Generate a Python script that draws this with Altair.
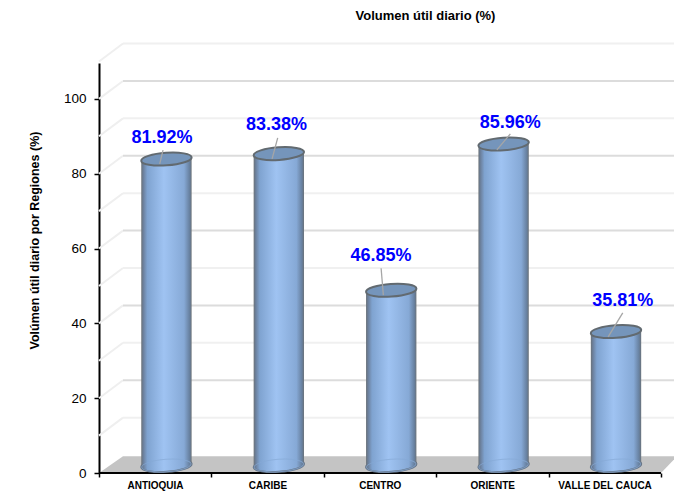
import altair as alt
import pandas as pd

regions = ["ANTIOQUIA", "CARIBE", "CENTRO", "ORIENTE", "VALLE DEL CAUCA"]
values = [81.92, 83.38, 46.85, 85.96, 35.81]
value_labels = ["81.92%", "83.38%", "46.85%", "85.96%", "35.81%"]
# leader ends and label centres, relative to each cylinder's top centre (category units, % units)
leader_start_dx = [-0.06, -0.06, -0.07, -0.06, -0.07]
leader_start_dy = [-1.3, -1.4, -1.3, -1.6, -1.4]
leader_end_dx = [-0.03, -0.01, -0.09, 0.06, 0.06]
leader_end_dy = [2.4, 4.2, 5.9, 2.7, 5.0]
label_dx = [-0.04, -0.02, -0.09, 0.06, 0.06]
label_dy = [5.7, 7.7, 9.2, 5.7, 8.2]
wall_levels = [10, 20, 30, 40, 50, 60, 70, 80, 90, 100, 110]
y_ticks = [0, 20, 40, 60, 80, 100]
x_ticks = [0, 1, 2, 3, 4, 5]

FONT = "Liberation Sans"
X_MAX, Y_MAX = 5.116, 109.6
DEPTH_X, DEPTH_Y = 0.2135, 4.8
LIFT = 2.0
SHIFT = 0.6
HALF = 0.224

k = 0.5523
ry = 0.25
ELLIPSE = (
    f"M-1,0 C-1,{-k*ry} {-k},{-ry} 0,{-ry} C{k},{-ry} 1,{-k*ry} 1,0 "
    f"C1,{k*ry} {k},{ry} 0,{ry} C{-k},{ry} -1,{k*ry} -1,0 Z"
)

xs = alt.Scale(domain=[0, X_MAX], nice=False, zero=False)
ys = alt.Scale(domain=[0, Y_MAX], nice=False, zero=False)

x_axis = alt.Axis(
    values=x_ticks, grid=False, domain=False, tickColor="black", tickWidth=1.5, tickSize=4,
    labelExpr="['ANTIOQUIA','CARIBE','CENTRO','ORIENTE','VALLE DEL CAUCA'][datum.value] || ''",
    labelOffset=56, labelFont=FONT, labelFontWeight="bold", labelFontSize=10,
    labelColor="black", labelPadding=3, labelBound=False, labelFlush=False, labelOverlap=False,
    labelAngle=0, labelAlign="center", title=None)
y_axis = alt.Axis(
    values=y_ticks, grid=False, domainColor="black", domainWidth=2, tickColor="black",
    tickWidth=1.5, tickSize=5, labelFont=FONT, labelFontSize=13.5, labelColor="black",
    labelPadding=8, labelOverlap=False, titleFont=FONT, titleFontWeight="bold",
    titleFontSize=12.5, titleColor="black", titleX=-58, titleY=177,
    title="Volúmen útil diario por Regiones (%)")


def X(f):
    return alt.X(f, type="quantitative", scale=xs, axis=x_axis)


def Y(f):
    return alt.Y(f, type="quantitative", scale=ys, axis=y_axis)


cyl = pd.DataFrame({"region": regions, "v": values, "label": value_labels})
cyl["cx"] = [i + SHIFT for i in range(len(regions))]
cyl["xl"] = cyl.cx - HALF
cyl["xr"] = cyl.cx + HALF
cyl["top"] = cyl.v + LIFT
cyl["base"] = LIFT
cyl["sx"] = cyl.cx + leader_start_dx
cyl["sy"] = cyl.top + leader_start_dy
cyl["lx"] = cyl.cx + leader_end_dx
cyl["ly"] = cyl.top + leader_end_dy
cyl["tx"] = cyl.cx + label_dx
cyl["ty"] = cyl.top + label_dy

wall = pd.DataFrame({"lv": wall_levels})
wall["x0"] = 0.0
wall["x1"] = DEPTH_X
wall["x2"] = X_MAX + 0.05
wall["y1"] = wall.lv + DEPTH_Y
wall["major"] = [v % 20 == 0 for v in wall_levels]

floor = pd.DataFrame({
    "x": [0, DEPTH_X, 5, 5 + 0.145],
    "y0": [0, 0, 0, DEPTH_Y - 0.3],
    "y1": [0, DEPTH_Y - 0.3, DEPTH_Y - 0.3, DEPTH_Y - 0.3],
})

base_line = alt.Chart(pd.DataFrame({"a": [0], "b": [5], "y": [0]})).mark_rule(
    color="black", strokeWidth=2).encode(x=X("a"), x2="b:Q", y=Y("y"))

diag = alt.Chart(wall).mark_rule(color="#efefef", strokeWidth=2).encode(
    x=X("x0"), x2="x1:Q", y=Y("lv"), y2="y1:Q")
back = alt.Chart(wall).mark_rule(strokeWidth=2).encode(
    x=X("x1"), x2="x2:Q", y=Y("y1"),
    color=alt.Color("major:N", legend=None,
                    scale=alt.Scale(domain=[True, False], range=["#dcdcdc", "#f0f0f0"])))

floor_area = alt.Chart(floor).mark_area(color="#c4c4c4", opacity=1).encode(
    x=X("x"), y=Y("y0"), y2="y1:Q")

body_grad = alt.Gradient(
    gradient="linear", x1=0, x2=1, y1=0, y2=0,
    stops=[
        alt.GradientStop(offset=0, color="#6b7278"),
        alt.GradientStop(offset=0.04, color="#6b7f9b"),
        alt.GradientStop(offset=0.12, color="#7fa3d0"),
        alt.GradientStop(offset=0.45, color="#9fc3f2"),
        alt.GradientStop(offset=0.85, color="#86a9d6"),
        alt.GradientStop(offset=0.96, color="#67809f"),
        alt.GradientStop(offset=1, color="#6b7278"),
    ],
)

bottom = alt.Chart(cyl).mark_point(
    shape=ELLIPSE, filled=True, fill=body_grad, stroke="#66768a", strokeWidth=2,
    size=2550, angle=356, opacity=1).encode(x=X("cx"), y=Y("base"))
body = alt.Chart(cyl).mark_bar(color=body_grad).encode(x=X("xl"), x2="xr:Q", y=Y("base"), y2="top:Q")
bottom_rim = alt.Chart(cyl).mark_point(
    shape=ELLIPSE, filled=False, stroke="#86a9d6", strokeWidth=1, strokeOpacity=0.7,
    size=2450, angle=356, opacity=1).encode(x=X("cx"), y=Y("base"))
top = alt.Chart(cyl).mark_point(
    shape=ELLIPSE, filled=True, fill="#7595bb", stroke="#626a70", strokeWidth=2,
    size=2550, angle=356, opacity=1).encode(x=X("cx"), y=Y("top"))
leader = alt.Chart(cyl).mark_rule(color="#a6a6a6", strokeWidth=1.3).encode(
    x=X("sx"), x2="lx:Q", y=Y("sy"), y2="ly:Q")
text = alt.Chart(cyl).mark_text(
    font=FONT, fontWeight="bold", fontSize=18, color="#0000ff", align="center", baseline="middle"
).encode(x=X("tx"), y=Y("ty"), text="label:N")

chart = alt.layer(
    diag, back, floor_area, base_line, bottom, body, bottom_rim, top, leader, text
).resolve_scale(color="independent").properties(
    width=575,
    height=410,
    autosize="none",
    padding={"left": 91, "top": 55, "right": 0, "bottom": 22},
    background="white",
    title=alt.TitleParams(
        "Volumen útil diario (%)", font=FONT, fontSize=13, fontWeight="bold", color="black",
        anchor="middle", dx=39, offset=20),
).configure_view(stroke=None)

chart.save("out.html", embed_options={"renderer": "svg", "actions": False})
